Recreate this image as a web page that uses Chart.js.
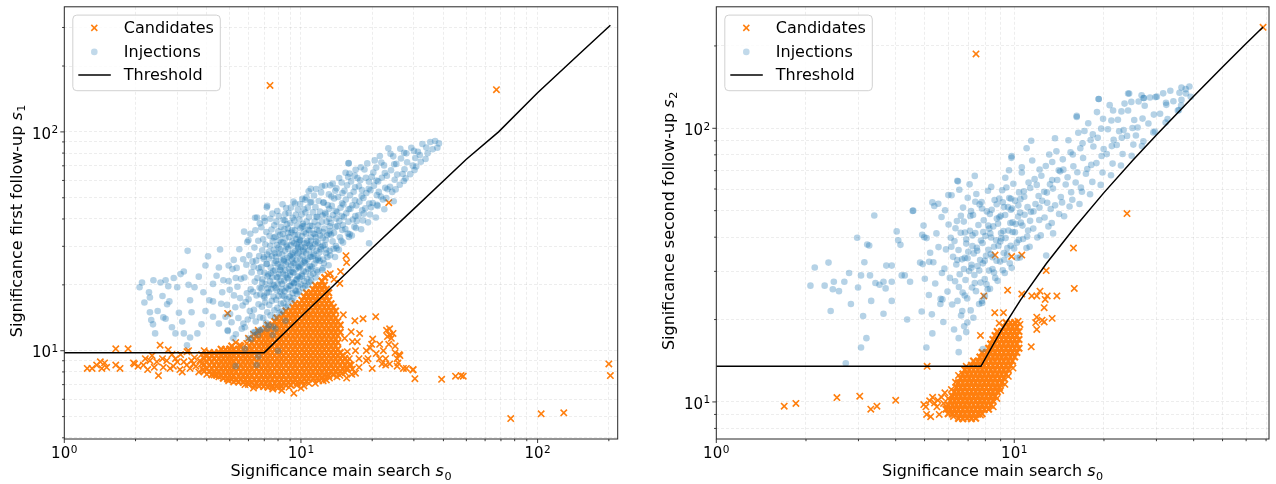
<!DOCTYPE html>
<html><head><meta charset="utf-8">
<script src="https://cdn.jsdelivr.net/npm/chart.js@4.4.1/dist/chart.umd.min.js"></script>
<style>
html,body{margin:0;padding:0;background:#fff;}
#wrap{position:relative;width:1276px;height:484px;overflow:hidden;}
canvas{position:absolute;top:0;}
#c1{left:0;}
#c2{left:640px;}
</style></head><body>
<div id="wrap"><canvas id="c1" width="640" height="484"></canvas><canvas id="c2" width="636" height="484"></canvas></div>
<script>
// ---------- series names and axis texts ----------
const seriesNames = ['Candidates', 'Injections', 'Threshold'];
const xTitleParts = ['Significance main search ', 's', '0'];
const leftYTitleParts = ['Significance first follow-up ', 's', '1'];
const rightYTitleParts = ['Significance second follow-up ', 's', '2'];

// ---------- ticks ----------
const leftXTicks = [1,2,3,4,5,6,7,8,9,10,20,30,40,50,60,70,80,90,100,200];
const leftYTicks = [4,5,6,7,8,9,10,20,30,40,50,60,70,80,90,100,200,300];
const rightXTicks = [1,2,3,4,5,6,7,8,9,10,20,30,40,50,60,70];
const rightYTicks = [8,9,10,20,30,40,50,60,70,80,90,100,200];
const majorTickLabels = [[1,'10','0'],[10,'10','1'],[100,'10','2']];
const leftXRange = [1, 218];
const leftYRange = [3.95, 373];
const rightXRange = [1, 71.6];
const rightYRange = [7.32, 278];

// ---------- threshold lines ----------
const leftThreshold = [[1,9.8],[7,9.8],[8,11.3],[10,14.3],[13.7,19.8],[20,29.5],[30,44.5],[50,75],[68.4,100],[100,151],[150,227],[203,307]];
const rightThreshold = [[1,13.5],[7.73,13.5],[9,18.1],[10.5,23.6],[12.8,32],[16,43.6],[20,58.2],[25,76.4],[30,94.6],[40,131],[50,167.5],[60,204],[68.4,234.6]];

// ---------- left panel: injections ----------
const leftInjections = [
[2.08,19.5],[2.13,20.5],[2.18,16.6],[2.28,18.5],[2.3,17.5],[2.38,21],[2.3,15],[2.33,13.8],[2.37,13.2],[2.42,12],[2.48,15.2],[2.55,20.5],[2.6,17.8],[2.62,14.2],[2.68,21],[2.68,14],[2.72,16.3],[2.75,19.7],[2.78,16.8],[2.85,12.8],[2.9,21.5],[2.95,12],[3.0,19.5],[3.05,14.9],[3.1,22.4],[3.15,13.6],[3.2,23],[3.2,12],[3.3,10.6],[3.32,28.6],[3.35,20],[3.4,17],[3.4,11.5],[3.45,15],[3.55,19.5],[3.65,12],[3.7,21.8],[3.8,13.2],[3.87,18.5],[3.95,24.5],[3.95,15.2],[4.05,27],[4.1,17],[4.25,20.2],[4.25,14.3],[4.25,16.8],[4.4,22],[4.5,13.3],[4.5,24],[4.55,29],[4.6,16.4],[4.65,18.5],[4.7,21],[4.8,14.3],[4.9,12.4],[4.95,24.5],[5.0,19],[5.2,26],[5.3,21.5],[5.75,35],[6.0,32],[6.4,40.5],[7.0,40.5],[7.2,46],[8.55,39.5],[9.3,48],[10.4,49],[11.0,55],[13.3,57],[12.7,42],[15.9,72],
[5.3,8.5],[6.5,8.6],[6.6,9.4],[8.0,10.0],[8.6,13.7],[6.7,12.4],[6.4,12.2],[7.8,12.6],[7.2,12.6],[5.8,10.2],[6.0,11.4],[7.6,11.8],
[4.91,12.3],[5.18,11.4],[5.02,14.7],[4.87,16.2],[5.21,17.9],[5.09,13.5],[4.95,20.8],[5.14,23.6],
[5.31,11.9],[5.62,12.6],[5.44,14.1],[5.71,13.3],[5.28,15.8],[5.53,17.4],[5.67,16.1],[5.39,19.6],[5.58,21.3],[5.35,23.9],[5.7,26.2],[5.49,29.1],
[5.79,12.8],[6.17,11.3],[5.96,13.9],[6.08,15.2],[5.84,16.7],[6.22,14.4],[5.91,18.3],[6.13,19.1],[6.01,17.2],[5.77,21.6],[6.19,22.8],[5.88,24.7],[6.05,27.3],[6.24,25.6],[5.93,31.4],[6.11,34.2],
[6.29,12.1],[6.58,11.8],[6.44,13.6],[6.71,14.2],[6.33,15.4],[6.62,16.3],[6.49,17.9],[6.27,18.6],[6.69,19.4],[6.38,20.7],[6.55,21.5],[6.73,22.9],[6.31,24.2],[6.47,25.8],[6.66,27.1],[6.36,29.6],[6.6,31.8],[6.42,35.5],[6.7,38.2],[6.52,40.6],
[6.78,12.5],[7.12,13.4],[6.93,14.1],[7.21,15.0],[6.84,15.9],[7.05,16.6],[6.97,17.8],[7.18,18.4],[6.81,19.3],[7.09,20.1],[6.88,21.2],[7.23,21.9],[7.01,22.7],[6.79,24.1],[7.15,24.9],[6.95,26.3],[7.2,27.5],[6.86,28.8],[7.07,30.6],[6.92,32.3],[7.14,34.9],[6.8,36.7],[7.03,39.1],[7.17,45.2],
[7.29,13.1],[7.61,12.9],[7.44,14.5],[7.72,15.3],[7.35,16.2],[7.53,16.9],[7.66,17.7],[7.31,18.5],[7.48,19.2],[7.7,19.9],[7.39,20.8],[7.57,21.6],[7.27,22.3],[7.64,23.1],[7.45,24.0],[7.74,25.2],[7.33,26.4],[7.55,27.1],[7.68,28.9],[7.41,30.2],[7.6,31.7],[7.37,33.5],[7.51,35.8],[7.71,37.4],[7.43,40.1],[7.58,42.3],
[7.79,14.2],[8.13,14.9],[7.95,15.7],[8.22,16.4],[7.86,17.1],[8.04,17.8],[8.18,18.6],[7.82,19.4],[7.99,20.2],[8.21,20.9],[7.9,21.7],[8.09,22.4],[7.77,23.3],[8.15,24.1],[7.97,24.9],[8.24,25.8],[7.84,26.9],[8.06,27.8],[8.19,29.1],[7.92,30.4],[8.11,31.9],[7.8,33.2],[8.02,35.1],[8.23,36.8],[7.88,38.9],[8.07,41.2],[7.94,43.5],[8.16,33.9],
[8.29,15.1],[8.62,15.8],[8.44,16.5],[8.71,17.2],[8.35,17.9],[8.53,18.7],[8.68,19.4],[8.31,20.2],[8.49,20.9],[8.73,21.6],[8.39,22.5],[8.57,23.3],[8.27,24.1],[8.64,24.8],[8.46,25.7],[8.74,26.6],[8.33,27.5],[8.55,28.6],[8.69,29.9],[8.41,31.2],[8.6,32.6],[8.37,34.1],[8.51,35.9],[8.72,37.8],[8.43,39.6],[8.58,42.1],[8.66,44.9],[8.36,46.7],
[8.79,16.1],[9.14,16.9],[8.94,17.6],[9.22,18.3],[8.85,19.1],[9.05,19.8],[9.19,20.6],[8.81,21.4],[8.99,22.1],[9.21,22.9],[8.9,23.7],[9.09,24.5],[8.77,25.4],[9.16,26.2],[8.97,27.1],[9.24,28.0],[8.84,29.2],[9.06,30.3],[9.2,31.6],[8.92,33.1],[9.11,34.7],[8.8,36.2],[9.02,38.3],[9.23,40.5],[8.88,42.6],[9.07,45.1],[9.17,35.5],
[9.29,17.4],[9.63,18.2],[9.45,18.9],[9.72,19.7],[9.34,20.4],[9.54,21.1],[9.69,21.9],[9.31,22.7],[9.49,23.5],[9.73,24.2],[9.39,25.1],[9.58,25.9],[9.27,26.8],[9.65,27.7],[9.46,28.6],[9.74,29.8],[9.35,31.0],[9.56,32.4],[9.7,33.9],[9.42,35.5],[9.61,37.3],[9.37,39.4],[9.52,41.8],[9.71,44.2],[9.44,47.1],[9.6,30.6],
[9.8,18.6],[10.21,19.3],[9.98,20.1],[10.32,20.8],[9.87,21.6],[10.09,22.3],[10.27,23.1],[9.83,23.9],[10.04,24.7],[10.3,25.4],[9.93,26.2],[10.15,27.1],[9.78,28.0],[10.24,28.9],[10.01,29.8],[10.34,30.9],[9.89,32.1],[10.11,33.4],[10.29,34.8],[9.96,36.3],[10.19,38.0],[9.85,39.8],[10.06,41.9],[10.31,44.3],[9.92,46.8],[10.13,49.4],[10.26,37.1],[9.81,31.5],
[10.4,19.8],[10.86,20.6],[10.61,21.3],[10.97,22.1],[10.47,22.9],[10.72,23.6],[10.92,24.4],[10.43,25.2],[10.66,26.1],[10.95,26.9],[10.53,27.8],[10.79,28.7],[10.38,29.7],[10.88,30.6],[10.63,31.8],[10.99,33.0],[10.5,34.3],[10.75,35.7],[10.93,37.2],[10.57,38.9],[10.82,40.7],[10.45,42.8],[10.69,45.1],[10.96,47.6],[10.55,50.2],[10.78,53.5],
[11.04,20.9],[11.55,21.6],[11.27,22.5],[11.66,23.3],[11.12,24.2],[11.39,25.0],[11.61,25.9],[11.08,26.8],[11.33,27.7],[11.64,28.6],[11.19,29.6],[11.47,30.7],[11.02,31.8],[11.58,33.0],[11.3,34.3],[11.68,35.7],[11.15,37.2],[11.43,38.9],[11.62,40.8],[11.23,42.9],[11.51,45.3],[11.06,47.9],[11.36,51.2],[11.59,54.8],
[11.75,22.9],[12.3,23.4],[12.0,25.7],[12.42,26.1],[11.84,26.5],[12.13,29.8],[12.37,30.2],[11.79,31.1],[12.06,33.6],[12.39,34.9],[11.93,35.3],[12.22,38.8],[11.72,40.9],[12.33,41.5],[12.03,43.2],[12.44,47.6],[11.88,48.3],[12.17,52.9],[12.36,23.8],[11.97,28.2],[12.26,56.4],[11.81,37.4],
[12.5,25.1],[13.09,24.6],[12.78,27.9],[13.22,28.6],[12.6,30.4],[12.9,33.7],[13.15,34.3],[12.55,36.2],[12.84,38.9],[13.19,40.1],[12.68,42.7],[12.98,46.3],[12.47,47.5],[13.12,51.8],[12.8,29.0],[13.24,37.0],[12.64,56.9],[12.94,26.8],[13.17,44.5],[12.73,32.1],
[13.3,27.3],[13.93,26.8],[13.6,31.6],[14.06,30.1],[13.41,33.9],[13.73,29.2],[14.0,36.8],[13.36,38.4],[13.66,41.7],[14.03,43.5],[13.5,45.9],[13.82,49.6],[13.27,35.2],[13.96,53.8],[13.62,58.1],[14.08,40.2],[13.45,50.7],[13.79,34.6],
[14.15,29.4],[14.81,31.8],[14.46,28.9],[14.96,35.6],[14.27,37.1],[14.61,33.0],[14.89,41.3],[14.21,42.9],[14.53,39.1],[14.92,47.2],[14.36,50.4],[14.7,45.0],[14.12,55.2],[14.85,58.7],[14.5,61.6],[14.98,52.6],
[15.06,31.2],[15.79,34.3],[15.4,36.0],[15.95,33.1],[15.18,40.8],[15.55,42.5],[15.87,38.9],[15.11,46.6],[15.47,49.1],[15.91,44.3],[15.27,53.8],[15.66,57.0],[15.03,37.5],[15.83,62.2],[15.44,65.1],[15.9,71.8],
[16.06,34.1],[16.82,36.9],[16.41,33.6],[16.97,41.2],[16.19,44.6],[16.58,39.8],[16.9,48.7],[16.12,51.3],[16.5,46.2],[16.93,55.9],[16.28,59.4],[16.7,53.3],[16.04,64.6],[16.86,63.1],
[17.07,36.4],[17.96,35.9],[17.48,41.6],[18.14,43.8],[17.22,39.2],[17.66,48.0],[18.05,50.9],[17.14,46.1],[17.58,56.4],[18.1,54.2],[17.33,61.5],[17.81,60.1],[17.02,67.2],[17.9,68.9],
[18.27,39.4],[19.21,38.6],[18.7,44.8],[19.42,47.1],[18.44,42.3],[18.9,52.6],[19.33,55.0],[18.36,49.9],[18.82,61.7],[19.38,59.2],[18.55,67.3],[19.06,71.8],[19.4,31.0],
[19.58,41.9],[20.73,40.6],[20.1,47.3],[20.93,51.4],[19.79,45.2],[20.34,56.8],[20.85,59.9],[19.66,54.1],[20.22,65.2],[20.8,68.7],[19.92,62.4],[20.5,74.1],[20.97,46.4],
[21.09,45.9],[22.5,44.3],[21.74,50.7],[22.7,55.6],[21.32,53.2],[21.98,61.7],[22.62,64.9],[21.18,59.4],[21.87,72.5],[22.44,70.3],[21.55,77.6],[22.2,49.1],
[22.93,49.8],[24.66,48.2],[23.78,56.1],[24.9,60.4],[23.2,54.7],[24.02,66.8],[24.78,71.2],[23.07,63.0],[23.9,79.5],[24.55,77.3],[23.4,84.1],[24.3,53.2],
[25.13,54.6],[27.2,59.7],[26.14,57.3],[27.38,67.5],[25.5,63.9],[26.47,75.6],[27.29,80.2],[25.29,71.4],[26.29,83.8],[26.9,64.2],
[27.68,61.3],[30.2,66.9],[28.96,64.1],[30.41,76.0],[28.1,72.7],[29.26,84.6],[30.03,81.9],[27.9,79.8],[29.7,70.1],
[30.7,69.5],[33.6,75.2],[32.1,73.0],[33.85,84.9],[31.2,81.2],[32.6,88.1],[31.8,78.4],
[34.3,79.8],[37.7,84.7],[36.0,83.3],[38.3,88.6],[35.2,89.9],[36.9,90.8],
[7.46,22.6],[9.12,27.5],[8.33,19.1],[10.58,31.1],[7.02,17.5],[9.88,24.3],[8.71,30.5],[11.27,27.2],[7.83,25.7],[10.07,21.9],[6.86,20.5],[9.41,33.7],[8.19,23.4],[11.6,31.6],[7.33,28.3],[10.41,25.8],[8.52,17.7],[9.64,21.2],[7.69,32.9],[11.02,23.6],[8.95,19.8],[6.63,23.8],[10.86,35.4],[7.91,18.9],[9.28,25.1],[12.1,29.1],[8.04,29.6],[10.24,28.4],[7.18,24.9],[9.71,29.4],[8.47,26.1],[11.44,34.1],[6.96,26.8],[9.03,22.9],[10.66,19.9],[7.58,20.1],[8.84,34.5],[9.95,31.8],[7.25,19.3],[11.8,26.1],[8.61,22.2],[10.13,36.9],[7.77,27.9],[9.53,18.7],[8.26,31.3],[6.74,18.1],[10.95,29.9],[9.36,20.3],[7.97,21.6],[12.35,32.7]
];

// ---------- left panel: candidates (dense core and scattered) ----------
const leftCandidatesCore = [
[6.35,6.95],[6.65,6.9],[6.95,6.86],[7.25,6.82],[7.57,6.86],[7.92,6.9],[8.27,6.87],[8.65,6.95],[9.05,6.97],
[5.45,7.2],[5.7,7.18],[5.95,7.12],[6.2,7.15],[6.5,7.1],[6.8,7.16],[7.1,7.1],[7.4,7.14],[7.75,7.1],[8.1,7.16],[8.45,7.12],[8.85,7.15],[9.25,7.2],[9.65,7.16],[10.1,7.22],[10.55,7.26],
[4.7,7.48],[4.9,7.42],[5.1,7.4],[5.32,7.36],[5.57,7.42],[5.82,7.38],[6.07,7.41],[6.35,7.37],[6.65,7.42],[6.95,7.38],[7.25,7.4],[7.57,7.43],[7.92,7.38],[8.27,7.41],[8.65,7.37],[9.05,7.42],[9.45,7.39],[9.87,7.41],[10.32,7.45],[10.77,7.42],[11.25,7.46],[11.75,7.5],[12.27,7.52],
[4.2,7.76],[4.4,7.72],[4.6,7.68],[4.8,7.72],[5.0,7.69],[5.2,7.71],[5.45,7.67],[5.7,7.72],[5.95,7.69],[6.2,7.71],[6.5,7.68],[6.8,7.72],[7.1,7.7],[7.4,7.67],[7.75,7.72],[8.1,7.69],[8.45,7.71],[8.85,7.68],[9.25,7.72],[9.65,7.7],[10.1,7.67],[10.55,7.72],[11.0,7.69],[11.5,7.71],[12.0,7.68],[12.55,7.74],[13.1,7.71],[13.7,7.76],
[3.9,8.05],[4.1,8.02],[4.3,7.98],[4.5,8.01],[4.7,7.99],[4.9,8.02],[5.1,7.98],[5.32,8.01],[5.57,7.99],[5.82,8.02],[6.07,7.98],[6.35,8.01],[6.65,7.99],[6.95,8.02],[7.25,7.98],[7.57,8.01],[7.92,7.99],[8.27,8.02],[8.65,7.98],[9.05,8.01],[9.45,7.99],[9.87,8.02],[10.32,7.98],[10.77,8.01],[11.25,7.99],[11.75,8.02],[12.27,7.98],[12.82,8.01],[13.4,8.04],[14.0,8.0],[14.65,8.06],
[4.0,8.3],[4.2,8.32],[4.4,8.28],[4.6,8.31],[4.8,8.29],[5.0,8.32],[5.2,8.28],[5.45,8.31],[5.7,8.29],[5.95,8.32],[6.2,8.28],[6.5,8.31],[6.8,8.29],[7.1,8.32],[7.4,8.28],[7.75,8.31],[8.1,8.29],[8.45,8.32],[8.85,8.28],[9.25,8.31],[9.65,8.29],[10.1,8.32],[10.55,8.28],[11.0,8.31],[11.5,8.29],[12.0,8.32],[12.55,8.28],[13.1,8.31],[13.7,8.29],[14.3,8.32],[15.0,8.28],[15.7,8.31],
[3.9,8.62],[4.1,8.58],[4.3,8.61],[4.5,8.59],[4.7,8.62],[4.9,8.58],[5.1,8.61],[5.32,8.59],[5.57,8.62],[5.82,8.58],[6.07,8.61],[6.35,8.59],[6.65,8.62],[6.95,8.58],[7.25,8.61],[7.57,8.59],[7.92,8.62],[8.27,8.58],[8.65,8.61],[9.05,8.59],[9.45,8.62],[9.87,8.58],[10.32,8.61],[10.77,8.59],[11.25,8.62],[11.75,8.58],[12.27,8.61],[12.82,8.59],[13.4,8.62],[14.0,8.58],[14.65,8.61],[15.35,8.59],[16.05,8.62],
[4.0,8.9],[4.2,8.88],[4.4,8.92],[4.6,8.89],[4.8,8.91],[5.0,8.88],[5.2,8.92],[5.45,8.89],[5.7,8.91],[5.95,8.88],[6.2,8.92],[6.5,8.89],[6.8,8.91],[7.1,8.88],[7.4,8.92],[7.75,8.89],[8.1,8.91],[8.45,8.88],[8.85,8.92],[9.25,8.89],[9.65,8.91],[10.1,8.88],[10.55,8.92],[11.0,8.89],[11.5,8.91],[12.0,8.88],[12.55,8.92],[13.1,8.89],[13.7,8.91],[14.3,8.88],[15.0,8.92],[15.7,8.9],
[3.9,9.22],[4.1,9.18],[4.3,9.21],[4.5,9.19],[4.7,9.22],[4.9,9.18],[5.1,9.21],[5.32,9.19],[5.57,9.22],[5.82,9.18],[6.07,9.21],[6.35,9.19],[6.65,9.22],[6.95,9.18],[7.25,9.21],[7.57,9.19],[7.92,9.22],[8.27,9.18],[8.65,9.21],[9.05,9.19],[9.45,9.22],[9.87,9.18],[10.32,9.21],[10.77,9.19],[11.25,9.22],[11.75,9.18],[12.27,9.21],[12.82,9.19],[13.4,9.22],[14.0,9.18],[14.65,9.21],[15.35,9.2],
[4.0,9.5],[4.2,9.52],[4.4,9.48],[4.6,9.51],[4.8,9.49],[5.0,9.52],[5.2,9.48],[5.45,9.51],[5.7,9.49],[5.95,9.52],[6.2,9.48],[6.5,9.51],[6.8,9.49],[7.1,9.52],[7.4,9.48],[7.75,9.51],[8.1,9.49],[8.45,9.52],[8.85,9.48],[9.25,9.51],[9.65,9.49],[10.1,9.52],[10.55,9.48],[11.0,9.51],[11.5,9.49],[12.0,9.52],[12.55,9.48],[13.1,9.51],[13.7,9.49],[14.3,9.52],[15.0,9.5],
[4.1,9.82],[4.3,9.78],[4.5,9.81],[4.7,9.79],[4.9,9.82],[5.1,9.78],[5.32,9.81],[5.57,9.79],[5.82,9.82],[6.07,9.78],[6.35,9.81],[6.65,9.79],[6.95,9.82],[7.25,9.78],[7.57,9.81],[7.92,9.79],[8.27,9.82],[8.65,9.78],[9.05,9.81],[9.45,9.79],[9.87,9.82],[10.32,9.78],[10.77,9.81],[11.25,9.79],[11.75,9.82],[12.27,9.78],[12.82,9.81],[13.4,9.79],[14.0,9.82],[14.65,9.8],
[4.6,10.15],[4.8,10.12],[5.0,10.17],[5.2,10.14],[5.45,10.16],[5.7,10.13],[5.95,10.17],[6.2,10.14],[6.5,10.16],[6.8,10.13],[7.1,10.17],[7.4,10.14],[7.75,10.16],[8.1,10.13],[8.45,10.17],[8.85,10.14],[9.25,10.16],[9.65,10.13],[10.1,10.17],[10.55,10.14],[11.0,10.16],[11.5,10.13],[12.0,10.17],[12.55,10.14],[13.1,10.16],[13.7,10.13],[14.3,10.15],
[5.1,10.5],[5.57,10.48],[6.07,10.52],[6.35,10.49],[6.65,10.51],[6.95,10.48],[7.25,10.52],[7.57,10.49],[7.92,10.51],[8.27,10.48],[8.65,10.52],[9.05,10.49],[9.45,10.51],[9.87,10.48],[10.32,10.52],[10.77,10.49],[11.25,10.51],[11.75,10.48],[12.27,10.52],[12.82,10.49],[13.4,10.51],[14.0,10.5],
[6.2,10.9],[6.5,10.88],[6.8,10.92],[7.1,10.89],[7.4,10.91],[7.75,10.88],[8.1,10.92],[8.45,10.89],[8.85,10.91],[9.25,10.88],[9.65,10.92],[10.1,10.89],[10.55,10.91],[11.0,10.88],[11.5,10.92],[12.0,10.89],[12.55,10.91],[13.1,10.88],[13.7,10.92],[14.3,10.9],
[6.35,11.3],[6.65,11.28],[6.95,11.32],[7.25,11.29],[7.57,11.31],[7.92,11.28],[8.27,11.32],[8.65,11.29],[9.05,11.31],[9.45,11.28],[9.87,11.32],[10.32,11.29],[10.77,11.31],[11.25,11.28],[11.75,11.32],[12.27,11.29],[12.82,11.31],[13.4,11.28],[14.0,11.3],
[6.5,11.7],[6.8,11.68],[7.1,11.72],[7.4,11.69],[7.75,11.71],[8.1,11.68],[8.45,11.72],[8.85,11.69],[9.25,11.71],[9.65,11.68],[10.1,11.72],[10.55,11.69],[11.0,11.71],[11.5,11.68],[12.0,11.72],[12.55,11.69],[13.1,11.71],[13.7,11.68],[14.3,11.7],
[6.65,12.15],[6.95,12.12],[7.25,12.17],[7.57,12.14],[7.92,12.16],[8.27,12.13],[8.65,12.17],[9.05,12.14],[9.45,12.16],[9.87,12.13],[10.32,12.17],[10.77,12.14],[11.25,12.16],[11.75,12.13],[12.27,12.17],[12.82,12.14],[13.4,12.16],[14.0,12.13],[14.65,12.15],
[7.1,12.6],[7.4,12.58],[7.75,12.62],[8.1,12.59],[8.45,12.61],[8.85,12.58],[9.25,12.62],[9.65,12.59],[10.1,12.61],[10.55,12.58],[11.0,12.62],[11.5,12.59],[12.0,12.61],[12.55,12.58],[13.1,12.62],[13.7,12.59],[14.3,12.6],
[7.25,13.1],[7.57,13.08],[7.92,13.12],[8.27,13.09],[8.65,13.11],[9.05,13.08],[9.45,13.12],[9.87,13.09],[10.32,13.11],[10.77,13.08],[11.25,13.12],[11.75,13.09],[12.27,13.11],[12.82,13.08],[13.4,13.12],[14.0,13.09],[14.65,13.1],
[7.75,13.6],[8.1,13.58],[8.45,13.62],[8.85,13.59],[9.25,13.61],[9.65,13.58],[10.1,13.62],[10.55,13.59],[11.0,13.61],[11.5,13.58],[12.0,13.62],[12.55,13.59],[13.1,13.61],[13.7,13.58],[14.3,13.6],
[7.92,14.1],[8.27,14.08],[8.65,14.12],[9.05,14.09],[9.45,14.11],[9.87,14.08],[10.32,14.12],[10.77,14.09],[11.25,14.11],[11.75,14.08],[12.27,14.12],[12.82,14.09],[13.4,14.11],[14.0,14.1],
[8.45,14.6],[8.85,14.58],[9.25,14.62],[9.65,14.59],[10.1,14.61],[10.55,14.58],[11.0,14.62],[11.5,14.59],[12.0,14.61],[12.55,14.58],[13.1,14.62],[13.7,14.6],
[8.65,15.2],[9.05,15.18],[9.45,15.22],[9.87,15.19],[10.32,15.21],[10.77,15.18],[11.25,15.22],[11.75,15.19],[12.27,15.21],[12.82,15.18],[13.4,15.22],[14.0,15.2],
[9.25,15.8],[9.65,15.78],[10.1,15.82],[10.55,15.79],[11.0,15.81],[11.5,15.78],[12.0,15.82],[12.55,15.79],[13.1,15.81],[13.7,15.8],
[9.45,16.4],[9.87,16.38],[10.32,16.42],[10.77,16.39],[11.25,16.41],[11.75,16.38],[12.27,16.42],[12.82,16.39],[13.4,16.4],
[10.1,17.0],[10.55,16.98],[11.0,17.02],[11.5,16.99],[12.0,17.01],[12.55,16.98],[13.1,17.0],
[10.32,17.7],[10.77,17.68],[11.25,17.72],[11.75,17.69],[12.27,17.71],[12.82,17.7],
[10.55,18.4],[11.0,18.38],[11.5,18.42],[12.0,18.39],[12.55,18.41],[13.1,18.4],
[11.25,19.1],[11.75,19.08],[12.27,19.12],[12.82,19.1],
[11.5,19.9],[12.0,19.88],[12.55,19.92],
[12.27,20.8],[12.6,21.6]
];
const leftCandidates = [
[1.25,8.3],[1.31,8.3],[1.37,8.6],[1.42,8.9],[1.44,8.3],[1.48,8.8],[1.51,8.4],[1.65,8.6],[1.72,8.3],[1.65,10.2],[1.86,10.2],[1.96,8.8],[1.98,8.7],[2.05,8.5],[2.16,8.6],[2.2,9.2],[2.25,8.2],[2.3,9.0],[2.35,9.5],[2.4,8.4],[2.46,8.9],[2.5,7.7],[2.54,10.6],[2.6,9.2],[2.62,8.4],[2.71,9.0],[2.75,10.1],[2.8,8.3],[2.85,9.6],[2.89,8.5],[2.95,9.2],[3.0,8.9],[3.08,8.2],[3.1,9.6],[3.15,8.0],[3.2,8.9],[3.29,8.6],[3.3,9.9],[3.35,10.0],[3.4,8.3],[3.45,9.0],[3.51,8.7],[3.55,9.3],[3.6,8.5],[3.7,8.0],[3.74,9.0],[3.8,9.6],[3.85,8.2],[3.8,8.7],[3.95,9.5],[3.9,10.0],
[4.9,14.8],[5.3,10.9],[5.5,10.6],[5.9,10.8],[6.0,11.4],[6.3,11.9],[6.6,12.4],[7.0,12.1],
[5.8,7.0],[6.3,6.75],[7.6,6.68],[8.9,6.8],[9.6,6.95],[10.8,7.1],[11.9,7.3],[13.2,7.5],[14.6,7.72],[15.4,7.95],[16.5,8.25],[4.3,7.75],[4.95,7.3],[10.3,6.9],[8.3,6.6],[12.8,7.35],
[15.1,14.6],[16.9,13.7],[18.3,14.0],[20.7,14.3],[16.5,11.0],[17.7,12.0],[19.9,10.7],[23.0,12.4],[23.2,11.6],[23.7,11.8],[23.5,10.7],[21.5,10.7],[22.3,10.0],[25.0,9.8],[26.2,9.5],[25.5,9.2],[27.1,8.3],[27.9,8.3],[29.8,8.2],[30.3,7.45],[29.7,8.17],[17.0,10.0],[18.9,10.0],[19.6,10.3],[20.8,9.7],[21.5,9.2],[22.8,9.2],[23.7,8.7],[22.0,8.7],[19.2,9.2],[17.6,9.2],[16.3,8.6],[17.6,8.4],[20.0,8.3],[17.0,7.9],[15.6,7.5],[15.6,8.2],[16.4,7.8],[18.9,9.0],[22.8,8.6],[25.5,8.5],[25.7,8.8],[16.3,12.2],[15.3,11.4],[20.1,11.3],[17.3,11.0],[15.7,9.9],[16.0,9.2],[14.9,7.9],[14.2,7.6],[24.1,11.4],[23.7,12.6],[24.5,12.0],[25.0,10.5],[26.0,9.6],
[39.3,7.4],[45.0,7.65],[47.5,7.7],[48.5,7.65],[77.0,4.9],[103.5,5.15],[129.0,5.2],[200.0,8.7],[203.0,7.7],[9.33,6.4],[7.4,163.0],[67.0,156.0],[23.5,47.5],[15.5,27.2],[15.6,25.3],[14.7,23.0],[13.3,22.5],[13.8,21.2],[14.6,20.3],[13.0,22.2],[10.0,6.75],[8.0,6.75],[11.5,7.1],[12.4,7.3],[6.0,7.0],[5.2,7.2],[4.5,7.6],[4.0,7.8]
];

// ---------- right panel: injections ----------
const rightInjections = [
[2.07,26.6],[2.14,31],[2.31,26.6],[2.38,32.3],[2.42,21.5],[2.46,25.8],[2.48,27.5],[2.58,25.4],[2.69,27.5],[2.72,13.85],[2.79,29.6],[2.83,22.8],[2.97,39.8],[2.99,26.2],[3.06,29],[3.11,20.6],[3.14,32.4],[3.21,37.6],[3.26,37.3],[3.06,15.8],[3.19,17.1],[3.28,29],[3.31,23.4],[3.39,48],[3.42,27.2],[3.53,26.8],[3.64,21],[3.64,27.5],[3.7,26],[3.72,31.5],[3.88,31.5],[3.88,27.5],[3.88,23.4],[4.03,42],[4.08,39],[4.15,37.5],[4.19,29],[4.29,29],[4.37,20],[4.47,27.5],[4.58,50],[4.83,32.3],[4.91,40.8],[4.99,40],[5.07,15.8],[5.18,32.5],[5.31,17.8],[5.39,52],[5.56,53],[5.65,22.8],[5.74,23.7],[6.01,57],[6.47,64],[6.51,17.1],[6.51,15.2],[6.69,21.5],[6.82,24.5],[6.9,18],[6.96,19.5],[7.37,67],[7.8,23],[7.97,24.4],[9.33,66],[9.78,78],[10.6,72],[11.4,90],[16.2,111],[19.2,128],[24.3,134],[27.2,129],[29.8,130],[32.3,124],[36.4,141],[37.7,134],[36.4,127],[35.4,116],[7.85,15.6],[4.56,49.9],[6.44,64.3],
[4.89,21.4],[5.17,24.6],[5.01,28.2],[4.93,31.9],[5.22,35.1],[5.08,39.7],[4.96,44.1],
[5.29,20.9],[5.66,23.8],[5.43,27.1],[5.72,29.6],[5.35,32.4],[5.57,36.8],[5.48,41.3],[5.7,47.4],[5.31,53.6],
[5.78,19.6],[6.19,22.7],[5.97,25.3],[6.08,28.4],[5.83,30.7],[6.23,33.9],[5.9,36.1],[6.12,39.8],[6.02,44.5],[5.86,50.2],[6.16,56.9],
[6.28,18.4],[6.63,20.7],[6.45,23.4],[6.71,25.1],[6.33,27.6],[6.56,29.3],[6.39,31.8],[6.68,33.2],[6.5,35.9],[6.3,38.7],[6.61,41.5],[6.42,45.8],[6.73,51.3],[6.54,59.6],
[6.79,18.9],[7.14,21.6],[6.95,23.9],[7.22,26.2],[6.86,27.9],[7.05,30.1],[7.19,31.7],[6.82,33.6],[7.01,35.4],[7.24,37.1],[6.9,39.3],[7.1,42.2],[6.77,45.6],[7.16,49.8],[6.98,55.7],[7.08,62.4],
[7.29,20.3],[7.62,22.8],[7.44,25.4],[7.71,27.3],[7.35,29.1],[7.53,31.4],[7.68,33.0],[7.31,34.9],[7.49,36.6],[7.73,38.9],[7.4,41.4],[7.58,44.3],[7.27,48.2],[7.65,52.7],[7.46,57.5],
[7.79,23.4],[8.14,25.8],[7.96,28.1],[8.22,30.2],[7.85,32.1],[8.04,34.2],[8.19,36.0],[7.82,38.1],[8.0,40.4],[8.24,43.0],[7.9,46.1],[8.09,49.7],[7.77,53.8],[8.16,59.1],
[8.29,25.9],[8.63,28.4],[8.45,30.6],[8.72,32.8],[8.34,34.7],[8.55,36.9],[8.69,39.0],[8.31,41.3],[8.5,43.8],[8.74,46.8],[8.4,50.4],[8.59,54.7],[8.37,61.1],
[8.79,27.7],[9.15,30.3],[8.96,32.6],[9.23,35.0],[8.85,37.2],[9.05,39.6],[9.2,42.1],[8.82,44.8],[9.01,47.9],[9.24,51.6],[8.91,55.4],[9.11,59.4],
[9.29,29.6],[9.66,32.1],[9.47,34.6],[9.73,37.2],[9.35,39.7],[9.56,42.3],[9.7,45.1],[9.32,48.2],[9.52,51.6],[9.74,55.3],[9.41,60.8],[9.6,70.3],
[9.8,30.9],[10.23,33.6],[9.99,36.4],[10.36,39.1],[9.87,41.8],[10.12,44.7],[10.3,47.6],[9.84,50.9],[10.06,54.4],[10.38,58.3],[9.93,62.7],[9.8,79.1],
[10.45,33.7],[10.99,36.5],[10.7,39.4],[11.13,42.3],[10.52,45.2],[10.83,48.3],[11.08,51.5],[10.48,55.1],[10.77,58.9],[11.17,63.4],[10.6,68.9],[11.0,84.6],
[11.26,36.9],[11.95,39.9],[11.58,43.0],[12.13,46.2],[11.37,49.5],[11.78,52.9],[12.07,56.6],[11.31,60.5],[11.7,65.2],[12.16,70.7],[11.49,76.3],
[12.8,34.3],[12.27,40.6],[13.02,43.8],[12.64,47.2],[13.25,50.7],[12.41,54.3],[12.87,58.2],[13.18,62.4],[12.33,67.1],[12.76,72.8],[13.1,80.2],
[13.5,41.3],[13.36,45.1],[14.14,48.6],[13.71,52.3],[14.33,56.1],[13.48,60.2],[13.94,64.7],[14.26,69.6],[13.41,75.3],[13.85,82.4],[13.7,92.0],
[14.7,47.7],[14.47,53.6],[15.33,51.8],[14.88,62.3],[15.52,58.4],[14.61,70.6],[15.1,66.2],[15.45,81.7],[14.55,77.0],[15.2,90.4],
[15.66,54.8],[16.55,52.9],[16.07,63.4],[16.74,60.7],[15.79,72.6],[16.28,69.1],[16.66,84.5],[15.72,80.2],[16.2,110.0],[16.4,96.3],
[16.87,58.6],[17.96,57.4],[17.4,68.2],[18.13,73.5],[17.02,77.9],[17.58,71.0],[18.04,90.6],[16.95,88.1],[17.71,104.4],[17.2,97.7],
[18.28,63.7],[19.5,62.1],[18.87,74.6],[19.64,79.2],[18.43,85.8],[19.06,92.3],[19.58,99.7],[18.35,95.0],[19.2,128.0],[18.95,114.6],
[19.78,68.9],[21.12,67.4],[20.44,80.5],[21.25,86.1],[19.95,84.0],[20.62,99.2],[21.18,106.8],[19.86,108.3],[20.9,121.5],
[21.38,74.3],[22.81,73.1],[22.07,86.9],[22.95,92.4],[21.55,90.7],[22.28,107.5],[22.89,115.3],[21.46,116.2],[22.5,97.6],
[23.1,80.6],[24.78,79.4],[23.9,93.8],[24.93,100.2],[23.28,98.5],[24.1,116.1],[24.71,124.9],[23.45,123.1],[24.1,134.0],
[25.1,87.2],[26.82,86.1],[25.94,100.7],[26.95,108.5],[25.27,107.3],[26.14,125.3],[26.75,132.1],[25.6,94.1],
[27.12,89.6],[29.28,96.6],[28.2,104.1],[29.41,112.2],[27.4,120.9],[28.55,129.6],[27.2,129.0],
[29.64,97.3],[32.2,104.9],[30.86,113.0],[32.38,121.8],[30.1,130.5],[31.6,134.2],
[32.7,108.2],[35.7,116.6],[34.2,125.6],[35.85,134.8],[33.4,137.2],
[36.3,121.0],[39.1,130.4],[37.6,139.0],[38.7,142.1],
[6.35,43.1],[8.91,47.3],[7.37,27.2],[9.62,55.6],[8.45,33.8],[6.15,36.9],[10.2,38.2],[7.12,47.8],[11.3,45.9],[8.07,26.9],[6.78,30.6],[9.03,41.4],[7.79,50.9],[10.8,56.2],[6.52,26.3],[8.36,39.9],[9.48,36.5],[7.51,35.7],[11.9,62.1],[6.9,37.9],[8.73,52.8],[10.46,49.2],[7.24,40.6],[9.87,45.3],[8.18,44.1],[6.62,47.9],[11.6,49.7],[7.96,32.8],[9.25,33.1],[12.6,58.6],[7.63,30.2],[10.05,41.7],[8.55,29.7],[6.97,33.5],[9.74,50.4],[12.15,51.3],[7.4,53.9],[8.28,48.6],[10.65,44.1],[6.44,33.0],[13.4,64.7],[9.15,53.7],[7.87,41.8],[11.05,40.2],[8.98,38.6],[14.1,70.3],[6.83,41.6],[10.32,52.3],[7.18,30.9],[12.9,53.4]
];

// ---------- right panel: candidates (dense core and scattered) ----------
const rightCandidatesCore = [
[6.5,8.7],[6.72,8.68],[6.95,8.72],[7.18,8.69],[7.42,8.71],
[6.0,9.05],[6.2,9.03],[6.4,9.07],[6.61,9.04],[6.83,9.06],[7.06,9.03],[7.3,9.07],[7.55,9.04],[7.8,9.05],
[5.9,9.4],[6.1,9.38],[6.3,9.42],[6.5,9.39],[6.72,9.41],[6.95,9.38],[7.18,9.42],[7.42,9.39],[7.67,9.41],[7.93,9.38],[8.2,9.4],
[6.0,9.75],[6.2,9.73],[6.4,9.77],[6.61,9.74],[6.83,9.76],[7.06,9.73],[7.3,9.77],[7.55,9.74],[7.8,9.76],[8.06,9.73],[8.34,9.75],
[6.1,10.1],[6.3,10.08],[6.5,10.12],[6.72,10.09],[6.95,10.11],[7.18,10.08],[7.42,10.12],[7.67,10.09],[7.93,10.11],[8.2,10.08],[8.48,10.1],
[6.2,10.5],[6.4,10.48],[6.61,10.52],[6.83,10.49],[7.06,10.51],[7.3,10.48],[7.55,10.52],[7.8,10.49],[8.06,10.51],[8.34,10.48],[8.62,10.5],
[6.3,10.9],[6.5,10.88],[6.72,10.92],[6.95,10.89],[7.18,10.91],[7.42,10.88],[7.67,10.92],[7.93,10.89],[8.2,10.91],[8.48,10.88],[8.77,10.9],
[6.4,11.3],[6.61,11.28],[6.83,11.32],[7.06,11.29],[7.3,11.31],[7.55,11.28],[7.8,11.32],[8.06,11.29],[8.34,11.31],[8.62,11.28],[8.92,11.3],
[6.5,11.75],[6.72,11.73],[6.95,11.77],[7.18,11.74],[7.42,11.76],[7.67,11.73],[7.93,11.77],[8.2,11.74],[8.48,11.76],[8.77,11.73],[9.07,11.75],
[6.61,12.2],[6.83,12.18],[7.06,12.22],[7.3,12.19],[7.55,12.21],[7.8,12.18],[8.06,12.22],[8.34,12.19],[8.62,12.21],[8.92,12.18],[9.22,12.2],
[6.72,12.65],[6.95,12.63],[7.18,12.67],[7.42,12.64],[7.67,12.66],[7.93,12.63],[8.2,12.67],[8.48,12.64],[8.77,12.66],[9.07,12.63],[9.38,12.65],
[6.83,13.1],[7.06,13.08],[7.3,13.12],[7.55,13.09],[7.8,13.11],[8.06,13.08],[8.34,13.12],[8.62,13.09],[8.92,13.11],[9.22,13.08],[9.54,13.1],
[7.18,13.6],[7.42,13.58],[7.67,13.62],[7.93,13.59],[8.2,13.61],[8.48,13.58],[8.77,13.62],[9.07,13.59],[9.38,13.61],[9.7,13.6],
[7.3,14.1],[7.55,14.08],[7.8,14.12],[8.06,14.09],[8.34,14.11],[8.62,14.08],[8.92,14.12],[9.22,14.09],[9.54,14.11],[9.86,14.1],
[7.67,14.6],[7.93,14.58],[8.2,14.62],[8.48,14.59],[8.77,14.61],[9.07,14.58],[9.38,14.62],[9.7,14.59],[10.03,14.6],
[7.8,15.15],[8.06,15.13],[8.34,15.17],[8.62,15.14],[8.92,15.16],[9.22,15.13],[9.54,15.17],[9.86,15.14],[10.2,15.15],
[8.2,15.7],[8.48,15.68],[8.77,15.72],[9.07,15.69],[9.38,15.71],[9.7,15.68],[10.03,15.72],[10.37,15.7],
[8.34,16.3],[8.62,16.28],[8.92,16.32],[9.22,16.29],[9.54,16.31],[9.86,16.28],[10.2,16.3],
[8.48,16.9],[8.77,16.88],[9.07,16.92],[9.38,16.89],[9.7,16.91],[10.03,16.88],[10.37,16.9],
[8.62,17.5],[8.92,17.48],[9.22,17.52],[9.54,17.49],[9.86,17.51],[10.2,17.5],
[8.77,18.1],[9.07,18.08],[9.38,18.12],[9.7,18.09],[10.03,18.11],[10.37,18.1],
[9.22,18.8],[9.54,18.78],[9.86,18.82],[10.2,18.8],
[9.38,19.5],[9.7,19.48],[10.03,19.52]
];
const rightCandidates = [
[1.69,9.65],[1.85,9.87],[2.54,10.37],[3.03,10.5],[3.3,9.41],[3.46,9.65],[4.0,10.14],
[4.97,9.78],[5.05,9.6],[5.24,8.83],[5.08,9.0],[5.32,10.4],[5.54,10.14],[5.7,10.4],[5.5,9.6],[5.94,9.46],[5.79,9.87],[5.2,10.1],[5.6,9.0],[5.85,10.8],[5.4,9.9],
[6.25,8.85],[7.7,8.95],[8.5,9.6],[8.75,10.3],[9.0,11.0],[9.3,11.6],[9.55,12.4],[9.9,13.3],[6.0,10.3],[6.15,11.1],[6.35,11.8],[6.5,12.5],
[8.62,34.4],[9.8,34.0],[10.6,34.4],[15.8,36.5],[15.9,26],[12.8,30.2],[9.5,25.6],[7.9,24.4],
[10.6,24.8],[11.45,24.4],[11.9,24.4],[12.2,25.4],[12.7,23.7],[12.9,24.4],[13.9,24.4],
[8.6,21.2],[9.2,21.2],[8.9,19.4],[10.3,19.7],[10.45,19.2],[12.6,22.1],[11.9,20.4],[11.8,19.5],[12.4,19.9],[12.6,19.6],[11.9,18.4],[13.4,20.2],[11.4,15.9],[7.7,17.5],[5.1,13.5],[6.9,13.5],
[23.9,48.8],[68.4,234],[7.44,187]
];

// ---------- drawing ----------
Chart.defaults.font.family = 'DejaVu Sans';
const FONT = '"DejaVu Sans"';
const toXY = pairs => pairs.map(p => ({x: p[0], y: p[1]}));
const isMajor = v => { const l = Math.log10(v); return Math.abs(l - Math.round(l)) < 1e-9; };
const ORANGE = '#ff7f0e';
const BLUE_A = 'rgba(31,119,180,0.33)';

function drawPow(ctx, base, exp, x, y, align) {
  ctx.font = '15px ' + FONT;
  const wb = ctx.measureText(base).width;
  ctx.font = '10.5px ' + FONT;
  const we = ctx.measureText(exp).width;
  const total = wb + 0.6 + we;
  const x0 = align === 'center' ? x - total / 2 : x - total;
  ctx.font = '15px ' + FONT;
  ctx.fillText(base, x0, y);
  ctx.font = '10.5px ' + FONT;
  ctx.fillText(exp, x0 + wb + 0.6, y - 5.2);
}

function drawTitle(ctx, parts, cx, baseY, rotate) {
  ctx.save();
  ctx.font = '16px ' + FONT;
  const w0 = ctx.measureText(parts[0]).width;
  ctx.font = 'italic 16px ' + FONT;
  const w1 = ctx.measureText(parts[1]).width;
  ctx.font = '11.2px ' + FONT;
  const w2 = ctx.measureText(parts[2]).width;
  const total = w0 + w1 + w2 + 0.5;
  if (rotate) { ctx.translate(baseY, cx); ctx.rotate(-Math.PI / 2); }
  else { ctx.translate(cx, baseY); }
  let x = -total / 2;
  ctx.textAlign = 'left'; ctx.textBaseline = 'alphabetic'; ctx.fillStyle = '#000';
  ctx.font = '16px ' + FONT; ctx.fillText(parts[0], x, 0); x += w0;
  ctx.font = 'italic 16px ' + FONT; ctx.fillText(parts[1], x, 0); x += w1 + 0.5;
  ctx.font = '11.2px ' + FONT; ctx.fillText(parts[2], x, 3.6);
  ctx.restore();
}

const axesPlugin = {
  id: 'mplAxes',
  afterDraw(chart) {
    const {ctx, chartArea: a, scales: {x, y}} = chart;
    ctx.save();
    ctx.strokeStyle = '#262626';
    ctx.lineWidth = 1;
    ctx.strokeRect(a.left, a.top, a.right - a.left, a.bottom - a.top);
    ctx.beginPath();
    x.ticks.forEach(t => {
      const px = x.getPixelForValue(t.value);
      const L = isMajor(t.value) ? 4 : 2.2;
      ctx.moveTo(px, a.bottom); ctx.lineTo(px, a.bottom + L);
    });
    y.ticks.forEach(t => {
      const py = y.getPixelForValue(t.value);
      const L = isMajor(t.value) ? 4 : 2.2;
      ctx.moveTo(a.left, py); ctx.lineTo(a.left - L, py);
    });
    ctx.lineWidth = 0.9;
    ctx.stroke();
    ctx.fillStyle = '#000';
    ctx.textAlign = 'left'; ctx.textBaseline = 'alphabetic';
    majorTickLabels.forEach(([v, b, e]) => {
      if (v >= x.min && v <= x.max) drawPow(ctx, b, e, x.getPixelForValue(v), a.bottom + 18.7, 'center');
      if (v >= y.min && v <= y.max) drawPow(ctx, b, e, a.left - 6, y.getPixelForValue(v) + 6.6, 'right');
    });
    drawTitle(ctx, xTitleParts, (a.left + a.right) / 2, a.bottom + 37, false);
    drawTitle(ctx, chart.options.plugins.mplAxes.yTitleParts, (a.top + a.bottom) / 2 - 2, a.left - 42.8, true);
    ctx.restore();
  }
};

const legendPlugin = {
  id: 'mplLegend',
  afterDraw(chart) {
    const {ctx, chartArea: a} = chart;
    const bx = a.left + 8, by = a.top + 7.8, bw = 147.5, bh = 75.6;
    ctx.save();
    ctx.beginPath();
    ctx.roundRect(bx + 0.5, by + 0.5, bw, bh, 4);
    ctx.fillStyle = 'rgba(255,255,255,0.8)';
    ctx.fill();
    ctx.strokeStyle = 'rgba(204,204,204,0.9)';
    ctx.lineWidth = 1;
    ctx.stroke();
    const mx = bx + 22;
    const rows = [by + 13.3, by + 37.3, by + 60.3];
    const d = 3;
    ctx.strokeStyle = ORANGE; ctx.lineWidth = 1.5;
    ctx.beginPath();
    ctx.moveTo(mx - d, rows[0] - d); ctx.lineTo(mx + d, rows[0] + d);
    ctx.moveTo(mx - d, rows[0] + d); ctx.lineTo(mx + d, rows[0] - d);
    ctx.stroke();
    ctx.fillStyle = 'rgba(31,119,180,0.28)';
    ctx.beginPath(); ctx.arc(mx, rows[1], 3.3, 0, Math.PI * 2); ctx.fill();
    ctx.strokeStyle = '#000'; ctx.lineWidth = 1.5;
    ctx.beginPath(); ctx.moveTo(bx + 6, rows[2]); ctx.lineTo(bx + 38.5, rows[2]); ctx.stroke();
    ctx.fillStyle = '#000';
    ctx.font = '16px ' + FONT;
    ctx.textBaseline = 'middle'; ctx.textAlign = 'left';
    seriesNames.forEach((n, i) => ctx.fillText(n, bx + 51.5, rows[i] + 0.5));
    ctx.restore();
  }
};

function makePanel(id, o) {
  const gridOpts = { color: 'rgba(0,0,0,0.09)', lineWidth: 0.8, drawTicks: false };
  const borderOpts = { display: false, dash: [3, 2] };
  return new Chart(document.getElementById(id), {
    type: 'scatter',
    data: { datasets: [
      { label: seriesNames[2], data: toXY(o.threshold), showLine: true, borderColor: '#000', borderWidth: 1.5, pointRadius: 0, fill: false, tension: 0, order: 0 },
      { label: seriesNames[1], data: toXY(o.injections), pointStyle: 'circle', pointRadius: 3.3, backgroundColor: BLUE_A, borderWidth: 0, order: 1 },
      { label: seriesNames[0], data: toXY(o.candidates), pointStyle: 'crossRot', pointRadius: 4.5, borderColor: ORANGE, backgroundColor: ORANGE, borderWidth: 1.6, order: 2 },
      { label: seriesNames[0], data: toXY(o.candidatesCore), pointStyle: 'crossRot', pointRadius: 4.6, borderColor: ORANGE, backgroundColor: ORANGE, borderWidth: 2.2, order: 3 }
    ]},
    options: {
      responsive: false, animation: false, devicePixelRatio: 1, events: [],
      layout: { padding: { left: 0, right: o.padRight, top: o.padTop, bottom: 0 } },
      plugins: { legend: { display: false }, tooltip: { enabled: false }, mplAxes: { yTitleParts: o.yTitleParts } },
      scales: {
        x: {
          type: 'logarithmic', position: 'bottom', min: o.xRange[0], max: o.xRange[1],
          afterBuildTicks: s => { s.ticks = o.xTicks.map(v => ({ value: v })); },
          afterFit: s => { s.height = 45; },
          ticks: { display: false, autoSkip: false },
          grid: gridOpts, border: borderOpts,
          title: { display: false }
        },
        y: {
          type: 'logarithmic', position: 'left', min: o.yRange[0], max: o.yRange[1],
          afterBuildTicks: s => { s.ticks = o.yTicks.map(v => ({ value: v })); },
          afterFit: s => { s.width = o.yAxisWidth; },
          ticks: { display: false, autoSkip: false },
          grid: gridOpts, border: borderOpts,
          title: { display: false }
        }
      }
    },
    plugins: [axesPlugin, legendPlugin]
  });
}

makePanel('c1', {
  threshold: leftThreshold, injections: leftInjections, candidates: leftCandidates, candidatesCore: leftCandidatesCore,
  xRange: leftXRange, yRange: leftYRange, xTicks: leftXTicks, yTicks: leftYTicks,
  yTitleParts: leftYTitleParts, yAxisWidth: 64.3, padRight: 22.3, padTop: 4
});
makePanel('c2', {
  threshold: rightThreshold, injections: rightInjections, candidates: rightCandidates, candidatesCore: rightCandidatesCore,
  xRange: rightXRange, yRange: rightYRange, xTicks: rightXTicks, yTicks: rightYTicks,
  yTitleParts: rightYTitleParts, yAxisWidth: 76.3, padRight: 7, padTop: 3.5
});
</script>
</body></html>
